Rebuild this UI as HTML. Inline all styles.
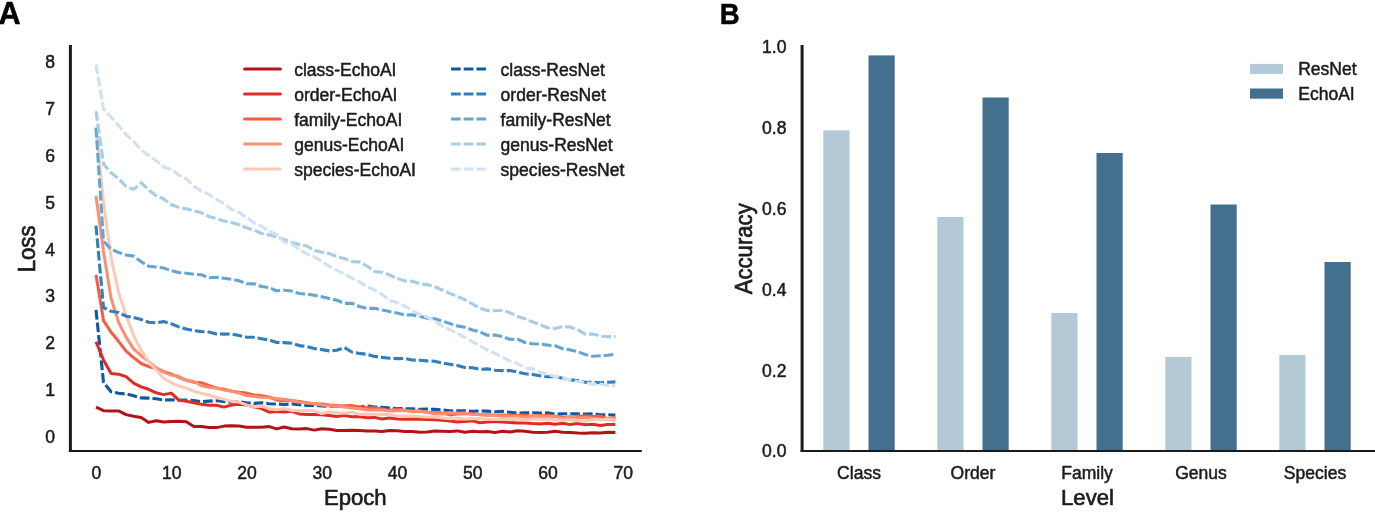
<!DOCTYPE html>
<html><head><meta charset="utf-8"><title>Figure</title>
<style>
html,body{margin:0;padding:0;background:#fff;}
body{width:1375px;height:512px;overflow:hidden;}
svg{display:block;will-change:transform;opacity:0.999;}
text{font-family:"Liberation Sans",sans-serif;fill:#1c1c1c;stroke:#1c1c1c;stroke-width:0.4px;stroke-linejoin:round;}
.tk{font-size:17.55px;stroke-width:0.5px;}
.lb{font-size:22.15px;stroke-width:0.65px;}
.pn{font-size:30px;font-weight:bold;fill:#000;stroke:#000;stroke-width:0.5px;}
.sp{stroke:#262626;stroke-width:2.2;fill:none;stroke-linecap:square;}
.ln{fill:none;stroke-linejoin:round;}
</style></head><body>
<svg width="1375" height="512" viewBox="0 0 1375 512">
<rect x="0" y="0" width="1375" height="512" fill="#ffffff"/>
<text class="pn" style="font-size:30.7px" x="-1.5" y="24.0">A</text>
<text class="pn" transform="translate(719.8,24.3) scale(0.92,0.985)">B</text>
<g>
<polyline class="ln" points="96.0,309.9 103.5,382.3 111.1,391.7 118.6,393.3 126.1,394.0 133.6,395.7 141.2,397.9 148.7,398.1 156.2,398.8 163.7,400.1 171.3,399.7 178.8,400.3 186.3,400.1 193.9,400.6 201.4,401.6 208.9,401.1 216.4,400.7 224.0,401.5 231.5,402.2 239.0,401.8 246.5,402.8 254.1,403.4 261.6,402.7 269.1,403.7 276.6,404.0 284.2,404.5 291.7,404.0 299.2,404.7 306.8,405.4 314.3,405.4 321.8,405.9 329.3,406.2 336.9,406.2 344.4,406.2 351.9,406.3 359.4,407.2 367.0,406.0 374.5,407.1 382.0,407.2 389.6,408.0 397.1,408.5 404.6,408.7 412.1,408.8 419.7,409.3 427.2,409.1 434.7,409.4 442.2,409.8 449.8,410.8 457.3,410.8 464.8,410.8 472.4,411.4 479.9,410.9 487.4,411.1 494.9,411.8 502.5,411.4 510.0,412.3 517.5,413.2 525.0,412.7 532.6,412.8 540.1,413.0 547.6,412.9 555.1,414.0 562.7,413.8 570.2,413.8 577.7,413.9 585.3,414.0 592.8,413.8 600.3,414.7 607.8,414.7 615.4,415.1" stroke="#0f59a3" stroke-width="3.1" stroke-dasharray="9.7 3.0"/>
<polyline class="ln" points="96.0,407.1 103.5,410.7 111.1,410.9 118.6,410.9 126.1,414.6 133.6,416.3 141.2,417.4 148.7,422.4 156.2,420.8 163.7,421.9 171.3,421.6 178.8,421.2 186.3,421.7 193.9,426.6 201.4,426.5 208.9,427.4 216.4,427.6 224.0,426.1 231.5,425.8 239.0,426.0 246.5,427.3 254.1,427.2 261.6,427.3 269.1,426.6 276.6,428.9 284.2,427.0 291.7,428.7 299.2,429.1 306.8,428.6 314.3,430.1 321.8,428.7 329.3,429.2 336.9,430.5 344.4,430.5 351.9,430.3 359.4,430.4 367.0,431.0 374.5,431.1 382.0,431.6 389.6,430.4 397.1,430.8 404.6,431.5 412.1,431.6 419.7,432.3 427.2,432.1 434.7,431.1 442.2,431.2 449.8,431.4 457.3,430.9 464.8,432.3 472.4,431.2 479.9,431.8 487.4,431.4 494.9,432.4 502.5,431.2 510.0,431.9 517.5,430.7 525.0,431.2 532.6,432.3 540.1,432.4 547.6,432.3 555.1,431.2 562.7,432.3 570.2,432.4 577.7,432.9 585.3,433.2 592.8,432.8 600.3,432.9 607.8,432.2 615.4,432.4" stroke="#b31218" stroke-width="3.0" stroke-linecap="butt"/>
<polyline class="ln" points="96.0,341.7 103.5,359.9 111.1,373.6 118.6,374.2 126.1,376.7 133.6,383.1 141.2,386.9 148.7,389.3 156.2,392.8 163.7,394.6 171.3,393.1 178.8,400.1 186.3,401.2 193.9,402.7 201.4,404.2 208.9,405.3 216.4,405.3 224.0,407.1 231.5,405.1 239.0,404.3 246.5,404.9 254.1,407.0 261.6,408.6 269.1,412.2 276.6,411.5 284.2,411.9 291.7,411.3 299.2,413.9 306.8,414.4 314.3,414.6 321.8,414.7 329.3,415.6 336.9,416.4 344.4,415.6 351.9,416.8 359.4,416.5 367.0,417.8 374.5,417.4 382.0,419.0 389.6,418.1 397.1,419.0 404.6,419.3 412.1,419.0 419.7,419.3 427.2,419.4 434.7,419.8 442.2,420.2 449.8,421.1 457.3,421.9 464.8,421.6 472.4,420.8 479.9,422.8 487.4,422.0 494.9,421.4 502.5,422.1 510.0,422.5 517.5,423.0 525.0,423.0 532.6,423.6 540.1,423.9 547.6,423.3 555.1,424.3 562.7,423.2 570.2,424.6 577.7,423.4 585.3,424.7 592.8,424.3 600.3,425.6 607.8,424.6 615.4,424.4" stroke="#de2b25" stroke-width="3.0" stroke-linecap="butt"/>
<polyline class="ln" points="96.0,274.8 103.5,320.6 111.1,332.3 118.6,341.3 126.1,351.2 133.6,357.6 141.2,363.5 148.7,366.7 156.2,368.2 163.7,371.7 171.3,374.0 178.8,377.4 186.3,380.1 193.9,382.3 201.4,382.7 208.9,385.5 216.4,388.0 224.0,389.2 231.5,391.2 239.0,392.3 246.5,393.1 254.1,395.0 261.6,395.8 269.1,397.0 276.6,399.9 284.2,400.7 291.7,400.6 299.2,401.4 306.8,402.8 314.3,404.0 321.8,404.0 329.3,404.9 336.9,405.5 344.4,406.0 351.9,405.6 359.4,406.9 367.0,407.8 374.5,407.8 382.0,408.9 389.6,410.4 397.1,409.0 404.6,410.3 412.1,411.2 419.7,411.2 427.2,412.3 434.7,412.7 442.2,413.1 449.8,414.9 457.3,414.1 464.8,413.8 472.4,413.8 479.9,414.8 487.4,414.8 494.9,415.2 502.5,415.0 510.0,415.5 517.5,415.2 525.0,415.3 532.6,416.4 540.1,415.7 547.6,415.5 555.1,416.2 562.7,416.9 570.2,417.4 577.7,416.0 585.3,416.0 592.8,416.6 600.3,416.0 607.8,418.8 615.4,417.4" stroke="#f75c41" stroke-width="3.0" stroke-linecap="butt"/>
<polyline class="ln" points="96.0,195.8 103.5,251.4 111.1,298.2 118.6,322.4 126.1,337.1 133.6,348.9 141.2,355.7 148.7,361.6 156.2,367.6 163.7,372.2 171.3,375.1 178.8,376.2 186.3,380.4 193.9,381.5 201.4,385.7 208.9,387.4 216.4,388.0 224.0,390.1 231.5,391.1 239.0,393.1 246.5,395.6 254.1,396.4 261.6,397.2 269.1,397.5 276.6,398.6 284.2,399.2 291.7,400.5 299.2,402.3 306.8,402.9 314.3,403.5 321.8,405.0 329.3,405.8 336.9,406.3 344.4,407.0 351.9,407.9 359.4,408.7 367.0,409.7 374.5,410.0 382.0,410.0 389.6,410.9 397.1,410.7 404.6,410.5 412.1,411.3 419.7,410.9 427.2,412.0 434.7,414.0 442.2,414.0 449.8,412.8 457.3,413.3 464.8,412.9 472.4,414.6 479.9,414.6 487.4,415.5 494.9,414.9 502.5,416.3 510.0,416.0 517.5,415.9 525.0,417.3 532.6,415.6 540.1,416.5 547.6,416.4 555.1,416.2 562.7,418.5 570.2,416.1 577.7,418.1 585.3,417.5 592.8,418.3 600.3,419.8 607.8,418.4 615.4,418.3" stroke="#fc8f6f" stroke-width="3.0" stroke-linecap="butt"/>
<polyline class="ln" points="96.0,127.6 103.5,202.4 111.1,257.8 118.6,292.5 126.1,315.4 133.6,335.5 141.2,350.2 148.7,361.9 156.2,370.1 163.7,378.2 171.3,382.8 178.8,386.0 186.3,388.1 193.9,391.3 201.4,393.4 208.9,395.0 216.4,397.5 224.0,399.3 231.5,401.4 239.0,402.1 246.5,404.9 254.1,406.9 261.6,406.2 269.1,408.4 276.6,409.7 284.2,408.5 291.7,410.5 299.2,410.7 306.8,410.4 314.3,410.8 321.8,413.5 329.3,411.7 336.9,412.7 344.4,413.3 351.9,412.1 359.4,414.4 367.0,414.1 374.5,414.6 382.0,414.2 389.6,414.5 397.1,415.9 404.6,415.9 412.1,415.9 419.7,416.7 427.2,417.1 434.7,416.8 442.2,418.0 449.8,418.7 457.3,418.2 464.8,419.0 472.4,418.7 479.9,418.5 487.4,419.2 494.9,419.5 502.5,419.3 510.0,419.7 517.5,419.0 525.0,419.9 532.6,418.8 540.1,419.2 547.6,419.0 555.1,419.8 562.7,419.9 570.2,419.7 577.7,420.8 585.3,421.4 592.8,419.5 600.3,419.7 607.8,419.2 615.4,420.7" stroke="#fdc9b4" stroke-width="3.0" stroke-linecap="butt"/>
<polyline class="ln" points="96.0,225.7 103.5,307.5 111.1,311.3 118.6,312.5 126.1,316.2 133.6,317.4 141.2,319.5 148.7,322.3 156.2,322.9 163.7,321.6 171.3,323.7 178.8,326.9 186.3,329.0 193.9,330.6 201.4,331.6 208.9,332.0 216.4,333.9 224.0,334.1 231.5,333.9 239.0,335.5 246.5,337.2 254.1,337.3 261.6,338.8 269.1,340.0 276.6,342.4 284.2,342.6 291.7,343.3 299.2,345.6 306.8,346.5 314.3,348.5 321.8,349.6 329.3,350.9 336.9,350.3 344.4,347.5 351.9,352.0 359.4,353.4 367.0,354.3 374.5,356.4 382.0,357.4 389.6,358.2 397.1,358.6 404.6,358.5 412.1,360.0 419.7,360.3 427.2,360.9 434.7,361.2 442.2,363.0 449.8,364.3 457.3,365.5 464.8,367.5 472.4,367.8 479.9,369.3 487.4,368.9 494.9,370.2 502.5,370.6 510.0,370.6 517.5,372.0 525.0,373.8 532.6,374.4 540.1,375.8 547.6,376.8 555.1,376.6 562.7,378.3 570.2,379.9 577.7,380.5 585.3,382.2 592.8,382.3 600.3,382.7 607.8,382.3 615.4,381.9" stroke="#2f7fbf" stroke-width="3.1" stroke-dasharray="9.7 3.0"/>
<polyline class="ln" points="96.0,127.6 103.5,241.2 111.1,249.2 118.6,252.5 126.1,255.0 133.6,256.1 141.2,261.7 148.7,266.3 156.2,267.0 163.7,268.0 171.3,270.7 178.8,272.5 186.3,273.2 193.9,274.2 201.4,274.8 208.9,277.8 216.4,277.2 224.0,278.2 231.5,279.2 239.0,280.8 246.5,283.7 254.1,283.9 261.6,286.5 269.1,287.6 276.6,290.7 284.2,290.2 291.7,291.0 299.2,293.5 306.8,294.2 314.3,295.2 321.8,296.8 329.3,298.5 336.9,300.3 344.4,303.4 351.9,303.2 359.4,306.5 367.0,308.4 374.5,308.2 382.0,310.0 389.6,311.6 397.1,313.0 404.6,315.0 412.1,314.9 419.7,316.2 427.2,318.2 434.7,318.7 442.2,321.0 449.8,323.5 457.3,325.9 464.8,327.2 472.4,330.0 479.9,331.9 487.4,335.3 494.9,335.0 502.5,336.6 510.0,339.3 517.5,339.1 525.0,342.5 532.6,343.7 540.1,344.1 547.6,345.1 555.1,345.8 562.7,348.7 570.2,349.9 577.7,351.7 585.3,354.5 592.8,356.3 600.3,355.7 607.8,355.2 615.4,354.3" stroke="#62a7d2" stroke-width="3.1" stroke-dasharray="9.7 3.0"/>
<polyline class="ln" points="96.0,111.2 103.5,164.0 111.1,172.8 118.6,178.7 126.1,186.6 133.6,189.3 141.2,182.7 148.7,190.0 156.2,195.7 163.7,199.0 171.3,204.8 178.8,207.3 186.3,208.8 193.9,210.8 201.4,212.8 208.9,216.5 216.4,218.5 224.0,221.1 231.5,222.6 239.0,224.7 246.5,227.8 254.1,230.1 261.6,233.5 269.1,234.9 276.6,236.8 284.2,239.4 291.7,242.4 299.2,244.6 306.8,246.0 314.3,250.4 321.8,252.2 329.3,253.6 336.9,256.8 344.4,258.5 351.9,261.6 359.4,261.9 367.0,266.0 374.5,271.5 382.0,272.3 389.6,275.0 397.1,278.4 404.6,280.9 412.1,281.2 419.7,283.7 427.2,284.6 434.7,286.8 442.2,290.0 449.8,293.4 457.3,296.5 464.8,299.6 472.4,304.0 479.9,308.1 487.4,310.6 494.9,310.8 502.5,310.2 510.0,312.7 517.5,316.4 525.0,318.8 532.6,322.0 540.1,324.7 547.6,327.7 555.1,328.6 562.7,326.7 570.2,327.0 577.7,329.8 585.3,334.2 592.8,334.1 600.3,336.1 607.8,336.8 615.4,336.5" stroke="#a6cde4" stroke-width="3.1" stroke-dasharray="9.7 3.0"/>
<polyline class="ln" points="96.0,64.4 103.5,108.9 111.1,117.3 118.6,125.6 126.1,134.6 133.6,141.5 141.2,149.6 148.7,155.4 156.2,160.9 163.7,167.0 171.3,169.4 178.8,174.9 186.3,178.6 193.9,186.4 201.4,191.2 208.9,194.2 216.4,199.4 224.0,203.6 231.5,209.5 239.0,212.4 246.5,217.4 254.1,222.8 261.6,226.3 269.1,231.3 276.6,234.5 284.2,242.0 291.7,243.9 299.2,249.4 306.8,253.7 314.3,256.9 321.8,261.3 329.3,266.5 336.9,270.4 344.4,273.8 351.9,278.2 359.4,281.6 367.0,286.8 374.5,290.0 382.0,294.3 389.6,300.4 397.1,302.4 404.6,306.2 412.1,310.2 419.7,314.7 427.2,317.0 434.7,320.9 442.2,326.3 449.8,329.6 457.3,333.1 464.8,337.4 472.4,341.7 479.9,345.5 487.4,350.2 494.9,353.2 502.5,357.3 510.0,360.9 517.5,363.5 525.0,367.6 532.6,368.8 540.1,372.2 547.6,374.4 555.1,376.4 562.7,378.1 570.2,379.7 577.7,381.5 585.3,382.3 592.8,384.3 600.3,384.0 607.8,385.4 615.4,385.6" stroke="#d0e2f2" stroke-width="3.1" stroke-dasharray="9.7 3.0"/>
</g>
<line x1="70.4" y1="45.0" x2="70.4" y2="452.05" stroke="#1a1a1a" stroke-width="3.0"/>
<line x1="68.9" y1="451.0" x2="641.8" y2="451.0" stroke="#1a1a1a" stroke-width="2.1"/>
<text class="tk" x="54.9" y="442.9" text-anchor="end">0</text>
<text class="tk" x="54.9" y="396.1" text-anchor="end">1</text>
<text class="tk" x="54.9" y="349.2" text-anchor="end">2</text>
<text class="tk" x="54.9" y="302.4" text-anchor="end">3</text>
<text class="tk" x="54.9" y="255.6" text-anchor="end">4</text>
<text class="tk" x="54.9" y="208.8" text-anchor="end">5</text>
<text class="tk" x="54.9" y="162.0" text-anchor="end">6</text>
<text class="tk" x="54.9" y="115.1" text-anchor="end">7</text>
<text class="tk" x="54.9" y="68.3" text-anchor="end">8</text>
<text class="tk" x="96.4" y="478.9" text-anchor="middle">0</text>
<text class="tk" x="171.7" y="478.9" text-anchor="middle">10</text>
<text class="tk" x="246.9" y="478.9" text-anchor="middle">20</text>
<text class="tk" x="322.2" y="478.9" text-anchor="middle">30</text>
<text class="tk" x="397.5" y="478.9" text-anchor="middle">40</text>
<text class="tk" x="472.8" y="478.9" text-anchor="middle">50</text>
<text class="tk" x="548.0" y="478.9" text-anchor="middle">60</text>
<text class="tk" x="623.3" y="478.9" text-anchor="middle">70</text>
<text class="lb" x="355.3" y="505.0" text-anchor="middle">Epoch</text>
<text class="lb" transform="translate(35.2,248.9) rotate(-90) scale(1,1.09)" text-anchor="middle">Loss</text>
<line x1="244.6" y1="69" x2="280.4" y2="69" stroke="#b31218" stroke-width="3.0" stroke-linecap="round"/>
<text class="tk" x="294.2" y="75.6">class-EchoAI</text>
<line x1="244.6" y1="94" x2="280.4" y2="94" stroke="#de2b25" stroke-width="3.0" stroke-linecap="round"/>
<text class="tk" x="294.2" y="100.6">order-EchoAI</text>
<line x1="244.6" y1="119" x2="280.4" y2="119" stroke="#f75c41" stroke-width="3.0" stroke-linecap="round"/>
<text class="tk" x="294.2" y="125.6">family-EchoAI</text>
<line x1="244.6" y1="144" x2="280.4" y2="144" stroke="#fc8f6f" stroke-width="3.0" stroke-linecap="round"/>
<text class="tk" x="294.2" y="150.6">genus-EchoAI</text>
<line x1="244.6" y1="169" x2="280.4" y2="169" stroke="#fdc9b4" stroke-width="3.0" stroke-linecap="round"/>
<text class="tk" x="294.2" y="175.6">species-EchoAI</text>
<line x1="451" y1="69" x2="486" y2="69" stroke="#0f59a3" stroke-width="3.1" stroke-dasharray="9.7 3.0"/>
<text class="tk" x="500.6" y="75.6">class-ResNet</text>
<line x1="451" y1="94" x2="486" y2="94" stroke="#2f7fbf" stroke-width="3.1" stroke-dasharray="9.7 3.0"/>
<text class="tk" x="500.6" y="100.6">order-ResNet</text>
<line x1="451" y1="119" x2="486" y2="119" stroke="#62a7d2" stroke-width="3.1" stroke-dasharray="9.7 3.0"/>
<text class="tk" x="500.6" y="125.6">family-ResNet</text>
<line x1="451" y1="144" x2="486" y2="144" stroke="#a6cde4" stroke-width="3.1" stroke-dasharray="9.7 3.0"/>
<text class="tk" x="500.6" y="150.6">genus-ResNet</text>
<line x1="451" y1="169" x2="486" y2="169" stroke="#d0e2f2" stroke-width="3.1" stroke-dasharray="9.7 3.0"/>
<text class="tk" x="500.6" y="175.6">species-ResNet</text>
<rect x="823.3" y="130.4" width="26.2" height="320.0" fill="#b4c9d6"/>
<rect x="868.5" y="55.4" width="26.2" height="395.0" fill="#44708f"/>
<rect x="937.3" y="217.0" width="26.2" height="233.4" fill="#b4c9d6"/>
<rect x="982.5" y="97.5" width="26.2" height="352.9" fill="#44708f"/>
<rect x="1051.3" y="313.0" width="26.2" height="137.4" fill="#b4c9d6"/>
<rect x="1096.5" y="153.0" width="26.2" height="297.4" fill="#44708f"/>
<rect x="1165.3" y="357.0" width="26.2" height="93.4" fill="#b4c9d6"/>
<rect x="1210.5" y="204.5" width="26.2" height="245.9" fill="#44708f"/>
<rect x="1279.3" y="355.0" width="26.2" height="95.4" fill="#b4c9d6"/>
<rect x="1324.5" y="262.0" width="26.2" height="188.4" fill="#44708f"/>
<line x1="802.1" y1="45.0" x2="802.1" y2="452.05" stroke="#1a1a1a" stroke-width="3.0"/>
<line x1="800.6" y1="451.0" x2="1376" y2="451.0" stroke="#1a1a1a" stroke-width="2.1"/>
<text class="tk" x="786.4" y="457.3" text-anchor="end">0.0</text>
<text class="tk" x="786.4" y="376.5" text-anchor="end">0.2</text>
<text class="tk" x="786.4" y="295.6" text-anchor="end">0.4</text>
<text class="tk" x="786.4" y="214.8" text-anchor="end">0.6</text>
<text class="tk" x="786.4" y="133.9" text-anchor="end">0.8</text>
<text class="tk" x="786.4" y="53.1" text-anchor="end">1.0</text>
<text class="tk" x="859" y="478.8" text-anchor="middle">Class</text>
<text class="tk" x="973" y="478.8" text-anchor="middle">Order</text>
<text class="tk" x="1087" y="478.8" text-anchor="middle">Family</text>
<text class="tk" x="1201" y="478.8" text-anchor="middle">Genus</text>
<text class="tk" x="1315" y="478.8" text-anchor="middle">Species</text>
<text class="lb" x="1087.5" y="505.0" text-anchor="middle">Level</text>
<text class="lb" transform="translate(751.6,248.8) rotate(-90) scale(1,1.09)" text-anchor="middle">Accuracy</text>
<rect x="1250" y="63.9" width="33" height="10.0" fill="#b4c9d6"/>
<rect x="1250" y="88.5" width="33" height="10.2" fill="#44708f"/>
<text class="tk" x="1298.2" y="75.2">ResNet</text>
<text class="tk" x="1298.2" y="100.3">EchoAI</text>
</svg></body></html>
